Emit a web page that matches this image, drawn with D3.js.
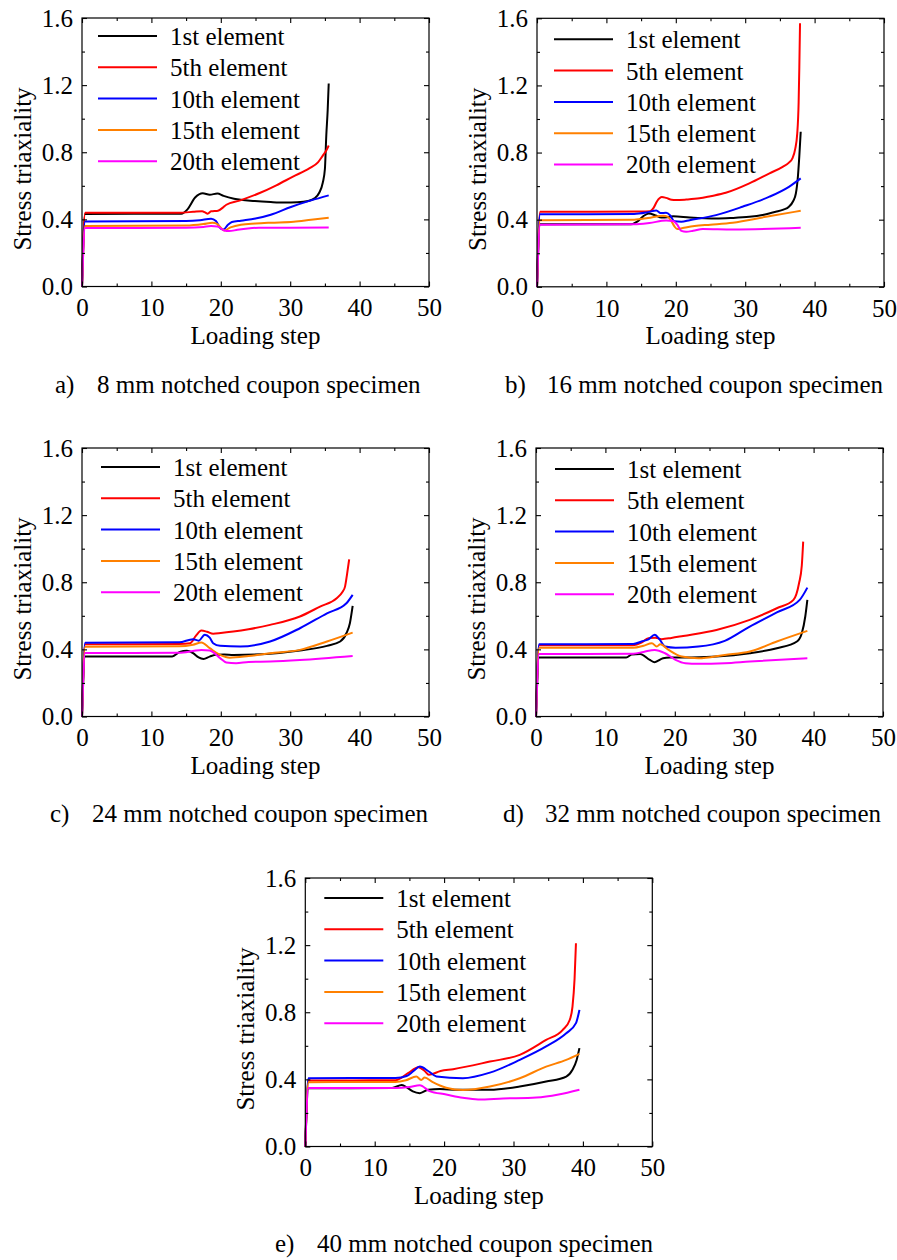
<!DOCTYPE html>
<html lang="en">
<head>
<meta charset="utf-8">
<title>Stress triaxiality vs loading step</title>
<script src="https://d3js.org/d3.v7.min.js"></script>
<style>
  body { margin: 0; background: #fff; }
  svg { display: block; font-family: "Liberation Serif", "Times New Roman", serif; }
  .tick text { font-size: 25px; fill: #000; font-family: "Liberation Serif", "Times New Roman", serif; }
  .tick line { stroke: #000; stroke-width: 1.1px; }
</style>
</head>
<body>
<svg width="897" height="1260"></svg>
<script>
// ---- data: [loading step, stress triaxiality] ----
var seriesNames = ["1st element", "5th element", "10th element", "15th element", "20th element"];
var seriesColors = ["#000000", "#ff0000", "#0000ff", "#ff8000", "#ff00ff"];

var xMajor = [0, 10, 20, 30, 40, 50];
var xMinor = [5, 15, 25, 35, 45];
var yMajor = [0, 0.4, 0.8, 1.2, 1.6];
var yMinor = [0.2, 0.6, 1.0, 1.4];

var captions = ["8 mm notched coupon specimen", "16 mm notched coupon specimen",
  "24 mm notched coupon specimen", "32 mm notched coupon specimen", "40 mm notched coupon specimen"];

// a) 8 mm
var a1 = [[0,0],[0.45,0.432],[14.3,0.434],[15.2,0.46],[16.3,0.53],[17.4,0.555],[18.4,0.547],[19.5,0.554],[20.4,0.54],[21.9,0.523],[24.9,0.509],[27.2,0.503],[29.2,0.5],[31,0.502],[32.6,0.51],[33.5,0.525],[34.2,0.56],[34.7,0.62],[35,0.7],[35.2,0.9],[35.4,1.05],[35.55,1.21]];
var a5 = [[0,0],[0.45,0.44],[14,0.44],[16,0.445],[17.3,0.449],[17.8,0.44],[18.1,0.434],[18.6,0.448],[19.6,0.452],[20.3,0.47],[20.8,0.487],[22.7,0.512],[25.6,0.557],[28,0.603],[30.4,0.655],[32.8,0.705],[34,0.74],[34.7,0.78],[35.2,0.81],[35.55,0.84]];
var a10 = [[0,0],[0.45,0.387],[15,0.39],[17,0.395],[18.6,0.404],[19.3,0.39],[20,0.345],[20.4,0.34],[21,0.366],[21.6,0.384],[22.9,0.392],[25,0.405],[27.2,0.428],[30.1,0.474],[33,0.513],[35.55,0.543]];
var a15 = [[0,0],[0.45,0.36],[15,0.363],[17.5,0.372],[18.8,0.38],[19.4,0.375],[20,0.35],[20.5,0.334],[21.4,0.352],[22.9,0.368],[25,0.375],[27.2,0.38],[30.5,0.386],[33,0.398],[35.55,0.41]];
var a20 = [[0,0],[0.45,0.348],[15,0.35],[17.5,0.355],[18.6,0.36],[19.5,0.358],[20.5,0.334],[21.2,0.33],[22.4,0.338],[23.9,0.346],[25.5,0.35],[30,0.35],[35.55,0.352]];

// b) 16 mm
var b1 = [[0,0],[0.45,0.372],[13.5,0.373],[14.5,0.39],[15.3,0.42],[16.1,0.437],[17.1,0.425],[17.9,0.413],[18.8,0.415],[19.6,0.42],[22,0.413],[25.8,0.407],[28,0.41],[30.6,0.417],[32.5,0.428],[34.4,0.447],[35.5,0.46],[36.3,0.477],[36.9,0.51],[37.3,0.556],[37.6,0.66],[37.8,0.78],[38,0.924]];
var b5 = [[0,0],[0.45,0.447],[15,0.448],[16.3,0.45],[16.8,0.47],[17.3,0.51],[18,0.535],[18.6,0.53],[19.4,0.519],[20,0.517],[21.5,0.52],[23.4,0.527],[25,0.54],[27.2,0.56],[30.6,0.616],[33.5,0.676],[35.4,0.715],[36.3,0.74],[36.8,0.765],[37.2,0.82],[37.5,0.914],[37.7,1.1],[37.8,1.31],[37.9,1.57]];
var b10 = [[0,0],[0.45,0.432],[14,0.434],[16,0.445],[17.2,0.455],[17.8,0.44],[18.6,0.441],[19.2,0.425],[19.8,0.39],[20.8,0.388],[22,0.397],[25.8,0.427],[29.6,0.477],[33.5,0.537],[36.3,0.596],[38,0.646]];
var b15 = [[0,0],[0.45,0.397],[14,0.4],[16,0.41],[18.2,0.424],[18.8,0.418],[19.3,0.395],[19.8,0.36],[20.2,0.344],[21,0.35],[22.7,0.362],[25,0.37],[28.2,0.382],[33,0.417],[38,0.453]];
var b20 = [[0,0],[0.45,0.37],[14,0.372],[16.2,0.38],[18.6,0.395],[19.6,0.392],[20.2,0.37],[20.8,0.333],[21.5,0.328],[22.5,0.334],[23.9,0.345],[28.2,0.342],[38,0.352]];

// c) 24 mm
var c1 = [[0,0],[0.45,0.358],[13,0.358],[14.1,0.385],[15.1,0.392],[16,0.378],[16.8,0.352],[17.5,0.343],[18.4,0.357],[19.3,0.368],[20.5,0.37],[21.8,0.367],[26.6,0.373],[31.4,0.393],[35.3,0.421],[37.2,0.447],[38.1,0.496],[38.6,0.556],[39,0.659]];
var c5 = [[0,0],[0.45,0.43],[14,0.432],[15.6,0.437],[16.4,0.48],[17.2,0.512],[18,0.505],[18.9,0.493],[20,0.497],[21.8,0.506],[24,0.52],[27.1,0.546],[31.4,0.596],[34.3,0.655],[36.7,0.705],[37.5,0.74],[37.9,0.774],[38.2,0.85],[38.5,0.937]];
var c10 = [[0,0],[0.45,0.44],[14,0.442],[16,0.461],[16.8,0.452],[17.7,0.487],[18.4,0.47],[18.9,0.437],[19.9,0.421],[22.8,0.417],[27.1,0.447],[31.4,0.526],[35.3,0.615],[38.1,0.675],[39,0.725]];
var c15 = [[0,0],[0.45,0.416],[14,0.418],[16,0.428],[17.2,0.441],[18.4,0.407],[19.9,0.367],[21.3,0.35],[24,0.36],[27.1,0.377],[31.4,0.397],[35.3,0.447],[39,0.5]];
var c20 = [[0,0],[0.45,0.378],[14,0.38],[16,0.39],[17.2,0.397],[18.4,0.393],[19.9,0.348],[20.8,0.322],[22.2,0.318],[24,0.325],[27.1,0.328],[31.4,0.337],[39,0.361]];

// d) 32 mm
var d1 = [[0,0],[0.45,0.352],[13,0.352],[13.8,0.37],[15,0.373],[16.4,0.337],[17.1,0.324],[18.3,0.347],[19.3,0.351],[22,0.352],[26,0.357],[30.8,0.377],[34.7,0.407],[37.6,0.447],[38.3,0.496],[38.8,0.596],[39.1,0.695]];
var d5 = [[0,0],[0.45,0.425],[14,0.425],[15.2,0.44],[16.2,0.467],[17.2,0.47],[18.1,0.461],[19.5,0.468],[21.2,0.48],[26,0.516],[30.8,0.576],[34.7,0.645],[37.1,0.695],[37.9,0.794],[38.3,0.9],[38.5,1.042]];
var d10 = [[0,0],[0.45,0.43],[14,0.432],[15.2,0.447],[16.2,0.46],[17.1,0.487],[17.8,0.46],[18.6,0.417],[20.1,0.41],[23.4,0.417],[27.2,0.451],[30.8,0.536],[34.7,0.62],[38,0.695],[39.1,0.768]];
var d15 = [[0,0],[0.45,0.41],[14,0.41],[15.5,0.422],[16.7,0.437],[17.4,0.417],[17.9,0.431],[19.1,0.397],[21,0.357],[23.4,0.347],[27.2,0.367],[30.8,0.387],[34.7,0.447],[39.1,0.51]];
var d20 = [[0,0],[0.45,0.372],[14,0.374],[15.5,0.385],[17.1,0.397],[18.6,0.377],[20.1,0.338],[21.5,0.318],[23.4,0.314],[27.2,0.318],[30.8,0.328],[39.1,0.347]];

// e) 40 mm
var e1 = [[0,0],[0.45,0.347],[12.5,0.348],[13.9,0.367],[14.7,0.35],[15.5,0.328],[16.5,0.318],[17.7,0.338],[19.4,0.342],[22,0.338],[26.6,0.338],[30.9,0.357],[34.7,0.387],[37.6,0.417],[38.5,0.457],[39.1,0.516],[39.5,0.586]];
var e5 = [[0,0],[0.45,0.393],[13,0.395],[14.8,0.437],[16.3,0.473],[17.2,0.45],[17.8,0.427],[19.5,0.45],[21.3,0.461],[26.6,0.506],[30.9,0.546],[34.7,0.635],[37.1,0.695],[38.1,0.754],[38.5,0.834],[38.8,1.0],[39,1.211]];
var e10 = [[0,0],[0.45,0.407],[13,0.408],[14.6,0.42],[15.6,0.45],[16.5,0.476],[17.8,0.447],[18.9,0.417],[22.7,0.407],[26.6,0.44],[30.9,0.516],[34.7,0.596],[37.6,0.675],[39,0.735],[39.5,0.814]];
var e15 = [[0,0],[0.45,0.383],[13,0.385],[14.5,0.395],[16,0.417],[16.7,0.397],[17.2,0.411],[18.3,0.385],[20.3,0.35],[22.7,0.336],[26.6,0.357],[30.9,0.407],[34.7,0.476],[37.6,0.516],[39.5,0.552]];
var e20 = [[0,0],[0.45,0.348],[13,0.349],[15,0.355],[16.5,0.365],[17.9,0.33],[20.3,0.31],[22.7,0.29],[24.9,0.28],[28.5,0.286],[33.3,0.292],[36.5,0.31],[39.5,0.338]];

var panelData = [[a1, a5, a10, a15, a20], [b1, b5, b10, b15, b20], [c1, c5, c10, c15, c20],
  [d1, d5, d10, d15, d20], [e1, e5, e10, e15, e20]];

// ---- layout ----
var W = 347, H = 268.5;
var layout = [
  {tag: "a)", left: 82,    top: 18,   cap: [55, 393],   legTop: 18, legDx: -3},
  {tag: "b)", left: 537,   top: 18.3, cap: [505, 393],  legTop: 21, legDx: -2},
  {tag: "c)", left: 82,    top: 448,  cap: [50, 822],   legTop: 19, legDx: 0},
  {tag: "d)", left: 536,   top: 448,  cap: [503, 822],  legTop: 21, legDx: 0},
  {tag: "e)", left: 305.3, top: 878,  cap: [275, 1252], legTop: 20, legDx: 0}
];

var svg = d3.select("svg");
var x = d3.scaleLinear().domain([0, 50]).range([0, W]);
var y = d3.scaleLinear().domain([0, 1.6]).range([H, 0]);

var line = d3.line()
  .x(function(d) { return x(d[0]); })
  .y(function(d) { return y(d[1]); })
  .curve(d3.curveMonotoneX);

layout.forEach(function(p, i) {
  var g = svg.append("g").attr("transform", "translate(" + p.left + "," + p.top + ")");

  // curves
  panelData[i].forEach(function(s, k) {
    g.append("path")
      .datum(s)
      .attr("d", line)
      .attr("fill", "none")
      .attr("stroke", seriesColors[k])
      .attr("stroke-width", 2)
      .attr("stroke-linejoin", "round");
  });

  // axes, ticks inward on all sides
  function ax(gen, vals, size, fmt, tr, pad) {
    var a = g.append("g").attr("transform", tr || null)
      .call(gen.tickValues(vals).tickSize(-size).tickPadding(pad || 3).tickFormat(fmt));
    a.attr("font-family", null).attr("font-size", null);
    a.select(".domain").remove();
    return a;
  }
  var none = function() { return ""; };
  ax(d3.axisBottom(x), xMajor, 5, d3.format("d"), "translate(0," + H + ")", 12)
    .selectAll("text").attr("dy", "0.71em");
  ax(d3.axisBottom(x), xMinor, 3, none, "translate(0," + H + ")");
  ax(d3.axisTop(x), xMajor, 5, none);
  ax(d3.axisTop(x), xMinor, 3, none);
  ax(d3.axisLeft(y), yMajor, 5, d3.format(".1f"), null, 9);
  ax(d3.axisLeft(y), yMinor, 3, none);
  ax(d3.axisRight(y), yMajor, 5, none, "translate(" + W + ",0)");
  ax(d3.axisRight(y), yMinor, 3, none, "translate(" + W + ",0)");

  g.append("rect")
    .attr("width", W).attr("height", H)
    .attr("fill", "none").attr("stroke", "#000").attr("stroke-width", 1.2);

  // axis titles
  g.append("text")
    .attr("x", W / 2).attr("y", H + 57)
    .attr("text-anchor", "middle").attr("font-size", 25)
    .text("Loading step");
  g.append("text")
    .attr("transform", "translate(-51," + 151 + ") rotate(-90)")
    .attr("text-anchor", "middle").attr("font-size", 25)
    .text("Stress triaxiality");

  // legend
  var leg = g.append("g").attr("transform", "translate(" + p.legDx + "," + p.legTop + ")");
  seriesNames.forEach(function(name, k) {
    var ly = k * 31.3;
    leg.append("line")
      .attr("x1", 19).attr("x2", 78).attr("y1", ly).attr("y2", ly)
      .attr("stroke", seriesColors[k]).attr("stroke-width", 2);
    leg.append("text")
      .attr("x", 91).attr("y", ly + 9)
      .attr("font-size", 25)
      .text(name);
  });

  // caption
  svg.append("text")
    .attr("x", p.cap[0]).attr("y", p.cap[1])
    .attr("font-size", 25)
    .text(p.tag);
  svg.append("text")
    .attr("x", p.cap[0] + 42).attr("y", p.cap[1])
    .attr("font-size", 25)
    .text(captions[i]);
});
</script>
</body>
</html>
